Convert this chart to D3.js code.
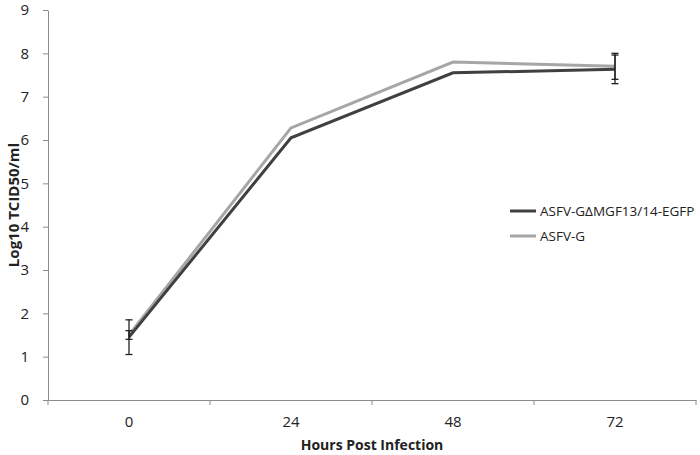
<!DOCTYPE html>
<html>
<head>
<meta charset="utf-8">
<script src="https://cdn.jsdelivr.net/npm/d3@7"></script>
<style>
  body { margin: 0; background: #fff; }
  text { font-family: "Open Sans", "Liberation Sans", sans-serif; fill: #222; }
</style>
</head>
<body>
<svg id="chart" width="700" height="455"></svg>
<script>
// hours post infection
var hours = ["0", "24", "48", "72"];
var seriesNames = ["ASFV-G\u0394MGF13/14-EGFP", "ASFV-G"];
// log10 TCID50/ml
var mutantValues = [1.45, 6.05, 7.55, 7.63];
var mutantErr = [0.4, 0, 0, 0.33];
var parentalValues = [1.5, 6.28, 7.8, 7.7];
var parentalErr = [0.1, 0, 0, 0.3];
var yTicks = [0, 1, 2, 3, 4, 5, 6, 7, 8, 9];

var colors = ["#404040", "#a6a6a6"];

var svg = d3.select("#chart"),
  margin = { top: 10, left: 48, bottom: 55, right: 4 },
  width = +svg.attr("width"),
  height = +svg.attr("height");

var x = d3.scaleBand()
  .domain(hours)
  .range([margin.left, width - margin.right]);

var y = d3.scaleLinear()
  .domain([0, 9])
  .range([height - margin.bottom, margin.top]);

// y axis
var yAxis = svg.append("g")
  .attr("transform", `translate(${margin.left},0)`)
  .call(d3.axisLeft(y).tickValues(yTicks).tickSize(5).tickSizeOuter(0).tickPadding(14));
yAxis.select(".domain").attr("stroke", "#8c8c8c");
yAxis.selectAll(".tick line").attr("stroke", "#8c8c8c");
yAxis.selectAll("text").style("font-size", "15px").attr("fill", "#222");

// x axis, ticks at band edges like the Excel category axis
var xAxis = svg.append("g")
  .attr("transform", `translate(0,${y(0)})`)
  .call(d3.axisBottom(x).tickSize(0).tickPadding(16));
xAxis.select(".domain").attr("stroke", "#8c8c8c");
xAxis.selectAll("text").style("font-size", "15px").attr("fill", "#222");
xAxis.selectAll(".edge")
  .data(hours.map(h => x(h)).concat([x(hours[hours.length - 1]) + x.bandwidth()]))
  .enter()
  .append("line")
  .attr("x1", d => d).attr("x2", d => d)
  .attr("y1", 0).attr("y2", 5)
  .attr("stroke", "#8c8c8c");

var cx = d => x(d) + x.bandwidth() / 2;

var series = [
  { name: seriesNames[0], values: mutantValues, err: mutantErr, color: colors[0] },
  { name: seriesNames[1], values: parentalValues, err: parentalErr, color: colors[1] }
];

var line = d3.line()
  .x((d, i) => cx(hours[i]))
  .y(d => y(d));

series.slice().reverse().forEach(function(s) {
  svg.append("path")
    .datum(s.values)
    .attr("fill", "none")
    .attr("stroke", s.color)
    .attr("stroke-width", 3)
    .attr("d", line);
});

// error bars
series.forEach(function(s) {
  s.values.forEach(function(v, i) {
    if (!s.err[i]) return;
    var px = cx(hours[i]);
    var g = svg.append("g").attr("stroke", "#222").attr("stroke-width", 1.3);
    g.append("line").attr("x1", px).attr("x2", px)
      .attr("y1", y(v + s.err[i])).attr("y2", y(v - s.err[i]));
    [v + s.err[i], v - s.err[i]].forEach(function(e) {
      g.append("line").attr("x1", px - 3.5).attr("x2", px + 3.5)
        .attr("y1", y(e)).attr("y2", y(e));
    });
  });
});

// axis titles
svg.append("text")
  .attr("text-anchor", "middle")
  .attr("transform", `translate(19,${(y(0) + y(9)) / 2}) rotate(-90)`)
  .style("font-size", "15px")
  .style("font-weight", "bold")
  .text("Log10 TCID50/ml");

svg.append("text")
  .attr("text-anchor", "middle")
  .attr("x", (margin.left + width - margin.right) / 2)
  .attr("y", 450)
  .style("font-size", "14px")
  .style("font-weight", "bold")
  .text("Hours Post Infection");

// legend
var legend = svg.selectAll(".legend")
  .data(series)
  .enter()
  .append("g")
  .attr("class", "legend")
  .attr("transform", (d, i) => `translate(510,${211 + i * 25})`);

legend.append("line")
  .attr("x1", 0).attr("x2", 26)
  .attr("stroke", d => d.color)
  .attr("stroke-width", 3);

legend.append("text")
  .attr("x", 30)
  .attr("dy", "0.35em")
  .style("font-size", "13.5px")
  .text(d => d.name);
</script>
</body>
</html>
